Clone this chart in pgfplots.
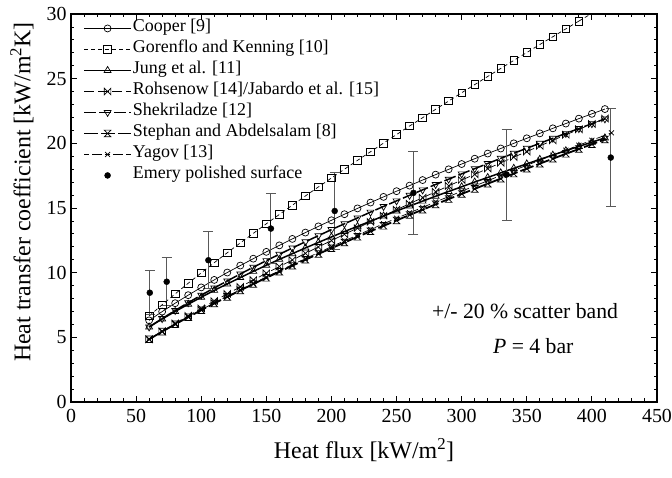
\documentclass[border=0pt]{standalone}
\usepackage{fontspec}
\setmainfont{Liberation Serif}
\usepackage{pgfplots}
\pgfplotsset{compat=1.18}

\pgfdeclareplotmark{bowtie}{%
  \pgfpathmoveto{\pgfqpoint{-\pgfplotmarksize}{-\pgfplotmarksize}}%
  \pgfpathlineto{\pgfqpoint{\pgfplotmarksize}{\pgfplotmarksize}}%
  \pgfpathlineto{\pgfqpoint{\pgfplotmarksize}{-\pgfplotmarksize}}%
  \pgfpathlineto{\pgfqpoint{-\pgfplotmarksize}{\pgfplotmarksize}}%
  \pgfpathclose
  \pgfusepathqstroke}
\pgfdeclareplotmark{hourglass}{%
  \pgfpathmoveto{\pgfqpoint{-\pgfplotmarksize}{\pgfplotmarksize}}%
  \pgfpathlineto{\pgfqpoint{\pgfplotmarksize}{\pgfplotmarksize}}%
  \pgfpathlineto{\pgfqpoint{-\pgfplotmarksize}{-\pgfplotmarksize}}%
  \pgfpathlineto{\pgfqpoint{\pgfplotmarksize}{-\pgfplotmarksize}}%
  \pgfpathclose
  \pgfpathmoveto{\pgfqpoint{-0.6\pgfplotmarksize}{0pt}}%
  \pgfpathlineto{\pgfqpoint{0.6\pgfplotmarksize}{0pt}}%
  \pgfusepathqstroke}

\begin{document}
\begin{tikzpicture}
\begin{axis}[
  scale only axis,
  width=586bp, height=388bp,
  xmin=0, xmax=450, ymin=0, ymax=30,
  xtick={0,50,...,450}, ytick={0,5,...,30},
  minor x tick num=4, minor y tick num=4,
  tick align=inside, tick pos=both,
  xticklabel pos=lower, yticklabel pos=left,
  major tick length=6bp, minor tick length=3.5bp,
  every tick/.style={black, line width=0.8bp},
  axis line style={line width=1.3bp},
  /pgf/number format/assume math mode=true,
  ticklabel style={font=\fontsize{20}{22}\selectfont},
  xticklabel style={yshift=-4bp},
  yticklabel style={xshift=-1bp},
  xlabel={Heat flux [kW/m\textsuperscript{2}]},
  ylabel={Heat transfer coefficient [kW/m\textsuperscript{2}K]},
  label style={font=\fontsize{24}{26}\selectfont},
  xlabel style={at={(rel axis cs:0.5,-0.124)}, anchor=center},
  ylabel style={at={(rel axis cs:-0.0836,0.541)}, anchor=center},
  legend cell align=left,
  legend image code/.code={\draw[mark repeat=2,mark phase=2,#1] plot coordinates {(0bp,0bp) (23.5bp,0bp) (47bp,0bp)};},
  legend style={at={(rel axis cs:0,1)}, anchor=north west, xshift=12bp, yshift=-6bp,
    draw=none, fill=none, inner sep=0pt,
    font=\fontsize{18}{19}\selectfont,
    row sep=4.5bp,
    nodes={inner xsep=1bp, inner ysep=0bp, text height=11bp, text depth=5.5bp},
    /tikz/every odd column/.append style={column sep=0bp}},
  every axis plot/.append style={black},
]
% Cooper
\addplot[line width=0.7bp, mark=o, mark size=3.5bp, mark options={solid, line width=0.7bp}] coordinates {
(60,6.31)(70,6.99)(80,7.64)(90,8.26)(100,8.86)(110,9.44)(120,10.01)(130,10.55)(140,11.08)(150,11.61)
(160,12.11)(170,12.61)(180,13.10)(190,13.58)(200,14.05)(210,14.52)(220,14.97)(230,15.42)(240,15.86)(250,16.30)
(260,16.73)(270,17.16)(280,17.58)(290,17.99)(300,18.40)(310,18.81)(320,19.21)(330,19.60)(340,20.00)(350,20.39)
(360,20.77)(370,21.16)(380,21.53)(390,21.91)(400,22.28)(410,22.65)};
\addlegendentry{Cooper [9]}
% Gorenflo
\addplot[line width=0.7bp, dash pattern=on 4bp off 3bp, mark=square, mark size=3.8bp, mark options={solid, line width=0.7bp}] coordinates {
(60,6.65)(70,7.52)(80,8.36)(90,9.18)(100,9.98)(110,10.77)(120,11.54)(130,12.30)(140,13.04)(150,13.78)
(160,14.50)(170,15.22)(180,15.93)(190,16.63)(200,17.32)(210,18.00)(220,18.68)(230,19.35)(240,20.02)(250,20.68)
(260,21.34)(270,21.98)(280,22.63)(290,23.27)(300,23.91)(310,24.54)(320,25.17)(330,25.79)(340,26.41)(350,27.02)
(360,27.64)(370,28.24)(380,28.85)(390,29.45)};
\addlegendentry{Gorenflo and Kenning [10]}
\addplot[forget plot, line width=0.7bp, dash pattern=on 4bp off 3bp] coordinates {(390,29.45)(400,30.05)};
% Jung
\addplot[line width=1.5bp, mark=triangle, mark size=4bp, mark options={solid, line width=0.7bp}] coordinates {
(60,5.80)(70,6.42)(80,7.00)(90,7.56)(100,8.10)(110,8.63)(120,9.13)(130,9.62)(140,10.10)(150,10.57)
(160,11.03)(170,11.47)(180,11.91)(190,12.34)(200,12.76)(210,13.18)(220,13.58)(230,13.98)(240,14.38)(250,14.77)
(260,15.15)(270,15.53)(280,15.91)(290,16.28)(300,16.64)(310,17.01)(320,17.36)(330,17.72)(340,18.07)(350,18.41)
(360,18.76)(370,19.09)(380,19.43)(390,19.76)(400,20.09)(410,20.42)};
\addlegendentry{Jung et al. [11]}
% Rohsenow
\addplot[line width=0.7bp, dash pattern=on 10bp off 4bp, mark=bowtie, mark size=3.3bp, mark options={solid, line width=0.7bp}] coordinates {
(60,4.85)(70,5.47)(80,6.08)(90,6.67)(100,7.24)(110,7.81)(120,8.36)(130,8.90)(140,9.43)(150,9.96)
(160,10.47)(170,10.98)(180,11.49)(190,11.99)(200,12.48)(210,12.97)(220,13.45)(230,13.93)(240,14.40)(250,14.87)
(260,15.33)(270,15.80)(280,16.25)(290,16.71)(300,17.16)(310,17.60)(320,18.05)(330,18.49)(340,18.93)(350,19.36)
(360,19.80)(370,20.23)(380,20.66)(390,21.08)(400,21.50)(410,21.92)};
\addlegendentry{Rohsenow [14]/Jabardo et al. [15]}
% Shekriladze
\addplot[line width=1.5bp, dash pattern=on 12bp off 3bp, mark=triangle, mark size=4bp, mark options={solid, rotate=180, line width=0.7bp}] coordinates {
(60,5.80)(70,6.45)(80,7.08)(90,7.68)(100,8.26)(110,8.82)(120,9.36)(130,9.90)(140,10.42)(150,10.93)
(160,11.42)(170,11.91)(180,12.39)(190,12.86)(200,13.33)(210,13.78)(220,14.23)(230,14.68)(240,15.12)(250,15.55)
(260,15.98)(270,16.40)(280,16.82)(290,17.23)(300,17.64)(310,18.04)(320,18.44)(330,18.84)(340,19.23)(350,19.62)
(360,20.00)(370,20.39)(380,20.77)(390,21.14)(400,21.52)(410,21.89)};
\addlegendentry{Shekriladze [12]}
% Stephan
\addplot[line width=1.8bp, dash pattern=on 14bp off 3bp, mark=hourglass, mark size=3.3bp, mark options={solid, line width=0.7bp}] coordinates {
(60,4.85)(70,5.44)(80,6.01)(90,6.56)(100,7.10)(110,7.62)(120,8.13)(130,8.63)(140,9.12)(150,9.60)
(160,10.07)(170,10.54)(180,11.00)(190,11.45)(200,11.89)(210,12.33)(220,12.77)(230,13.20)(240,13.62)(250,14.04)
(260,14.46)(270,14.87)(280,15.28)(290,15.69)(300,16.09)(310,16.48)(320,16.88)(330,17.27)(340,17.66)(350,18.04)
(360,18.43)(370,18.81)(380,19.19)(390,19.56)(400,19.93)(410,20.30)};
\addlegendentry{Stephan and Abdelsalam [8]}
% Yagov
\addplot[line width=0.7bp, dash pattern=on 5bp off 3bp on 10bp off 3bp, mark=x, mark size=3.5bp, mark options={solid, line width=0.7bp}] coordinates {
(60,4.85)(70,5.45)(80,6.02)(90,6.58)(100,7.13)(110,7.66)(120,8.17)(130,8.68)(140,9.18)(150,9.67)
(160,10.15)(170,10.62)(180,11.09)(190,11.55)(200,12.01)(210,12.46)(220,12.90)(230,13.34)(240,13.78)(250,14.21)
(260,14.63)(270,15.05)(280,15.47)(290,15.88)(300,16.30)(310,16.70)(320,17.11)(330,17.51)(340,17.91)(350,18.30)
(360,18.69)(370,19.08)(380,19.47)(390,19.86)(400,20.24)(415,20.81)};
\addlegendentry{Yagov [13]}
% Emery polished surface
\addplot[forget plot, only marks, mark=*, mark size=3bp,
  error bars/.cd, y dir=both, y fixed relative=0.2,
  error bar style={black!65, line width=1bp},
  error mark options={rotate=90, mark size=5bp, black!65, line width=1bp}] coordinates {
(60.5,8.45)(73.5,9.30)(105.5,10.96)(153.5,13.41)(202.5,14.77)(263,16.17)(334.5,17.59)(414.5,18.90)};
\addlegendimage{only marks, legend image code/.code={\fill (23.5bp,0bp) circle (3bp);}}
\addlegendentry{Emery polished surface}
\node[font=\fontsize{21.8}{23}\selectfont] at (axis cs:348.7,7.0) {+/- 20 \% scatter band};
\node[font=\fontsize{21.8}{23}\selectfont] at (axis cs:355,4.33) {{\itshape P} = 4 bar};
\end{axis}
\pgfresetboundingbox
\path (current axis.south west) ++(-71bp,-76bp) coordinate (bbA);
\path (current axis.north east) ++(15bp,14bp) coordinate (bbB);
\path[use as bounding box] (bbA) rectangle (bbB);
\end{tikzpicture}
\end{document}
